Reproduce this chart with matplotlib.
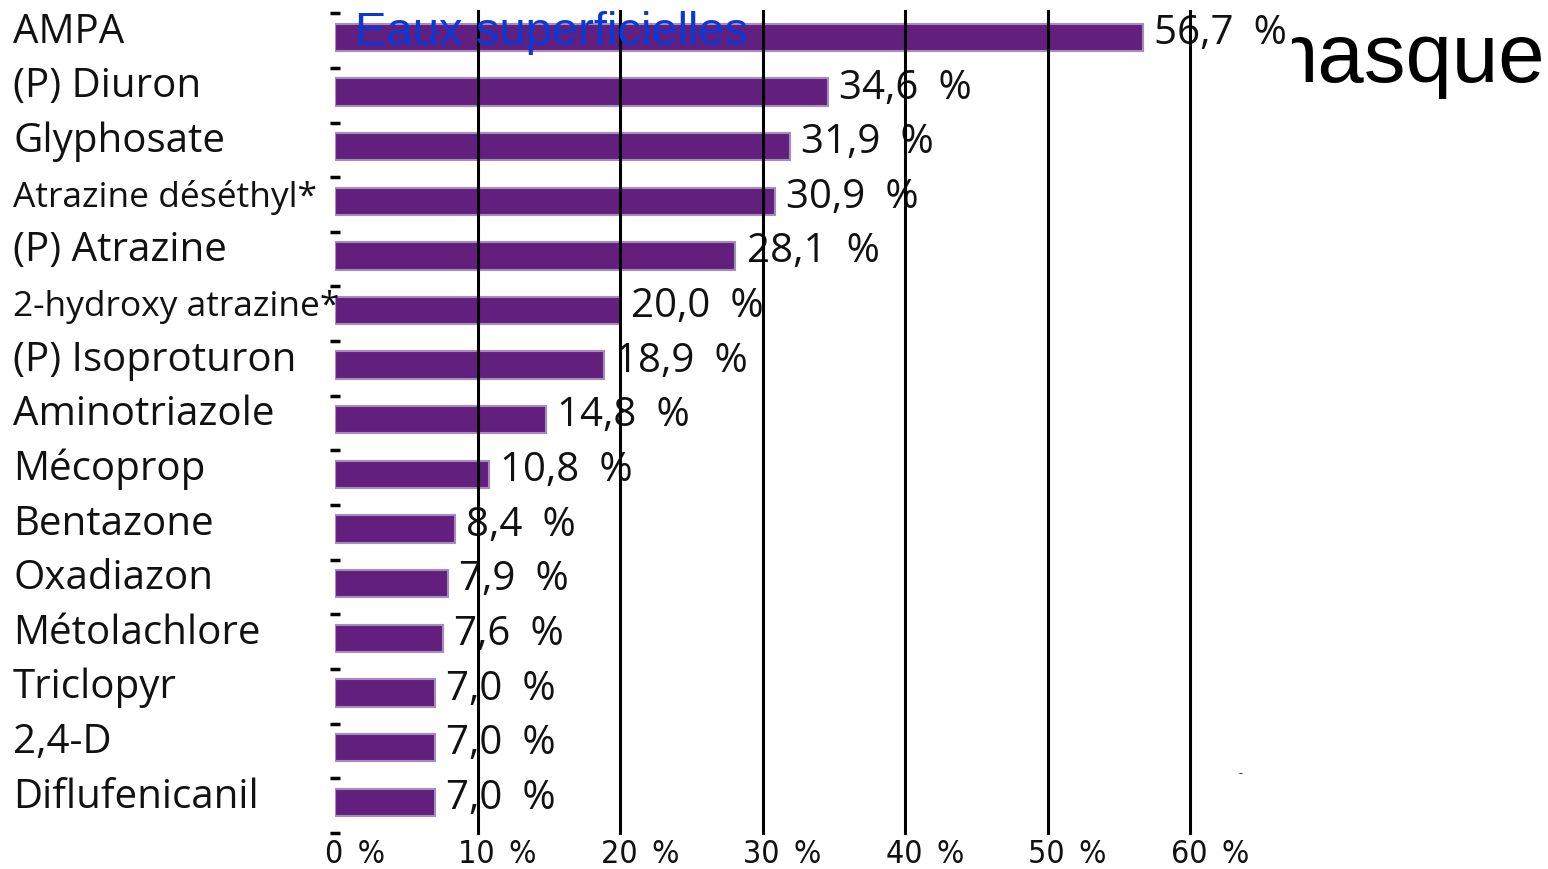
import matplotlib
matplotlib.use('Agg')
import numpy as np
import matplotlib.pyplot as plt
import matplotlib.transforms as mtransforms
from matplotlib.transforms import Bbox, TransformedBbox

# data
substances = ['AMPA', '(P) Diuron', 'Glyphosate', 'Atrazine déséthyl*', '(P) Atrazine',
              '2-hydroxy atrazine*', '(P) Isoproturon', 'Aminotriazole', 'Mécoprop',
              'Bentazone', 'Oxadiazon', 'Métolachlore', 'Triclopyr', '2,4-D', 'Diflufenicanil']
freq = [56.7, 34.6, 31.9, 30.9, 28.1, 20.0, 18.9, 14.8, 10.8, 8.4, 7.9, 7.6, 7.0, 7.0, 7.0]
xticks = [0, 10, 20, 30, 40, 50, 60]

W, H = 1548, 869
SP = '\u2002'  # wide space before the % sign, as in the source
fig = plt.figure(figsize=(W / 100, H / 100), dpi=100)
fig.patch.set_facecolor('white')

# axes: 0 % at x=335px, 10 % steps of ~142.5px
x0, x1 = 335 / W, 1290 / W
ax = fig.add_axes([x0, 1 - 835 / H, x1 - x0, (835 - 10) / H])
ax.set_xlim(0, (1290 - 335) / 14.25)
ax.set_ylim(14.6, -0.5)

ypos = np.arange(len(substances))
ax.barh(ypos, freq, height=0.5, color='#621f7e', edgecolor='#a68bbd', linewidth=1.5, zorder=2)

for x in xticks[1:]:
    ax.axvline(x, color='black', linewidth=2.2, zorder=5)

for spine in ax.spines.values():
    spine.set_visible(False)

label_font = ['Open Sans', 'DejaVu Sans']
for y, v in zip(ypos, freq):
    ax.annotate(f'{v:.1f}{SP}%'.replace('.', ','), xy=(v, y + 0.12), xytext=(8, 0),
                textcoords='offset points', va='baseline', ha='left',
                fontsize=29, family=label_font, color='#111111', zorder=4)

# category names, left aligned on the figure edge; long names squeezed a bit
trans = mtransforms.blended_transform_factory(fig.transFigure, ax.transData)
for y, name in zip(ypos, substances):
    size = 29 if len(name) < 18 else 25.5
    ax.text(13 / W, y + 0.1, name, transform=trans, ha='left', va='baseline',
            fontsize=size, family=label_font, color='#111111', clip_on=False)

# x ticks
ax.set_xticks(xticks)
ax.set_xticklabels([f'{t}{SP}%' for t in xticks], fontsize=23, family='DejaVu Sans',
                   fontstretch='condensed', color='#111111')
ax.tick_params(axis='x', length=0, pad=3)
offset = mtransforms.ScaledTranslation(20 / 100, 0, fig.dpi_scale_trans)
for lab in ax.get_xticklabels():
    lab.set_transform(lab.get_transform() + offset)

# small ticks between rows on the left
ax.set_yticks([])
ax.set_yticks(np.arange(len(substances) + 1) - 0.44, minor=True)
ax.tick_params(axis='y', which='minor', length=7, width=2.5, direction='inout', color='black')

# overlay texts from the slide
fig.text(355 / W, 1 - 45 / H, 'Eaux superficielles', color='#0a3ad6', fontsize=34,
         family='Liberation Sans', va='baseline', ha='left', zorder=10)
t = fig.text(1248 / W, 1 - 82 / H, 'masque', color='black', fontsize=60,
             family='Liberation Sans', va='baseline', ha='left', zorder=10)
t.set_clip_box(TransformedBbox(Bbox([[1292 / W, 0], [1, 1]]), fig.transFigure))
t.set_clip_on(True)
fig.text(1240 / W, 1 - 773 / H, '-', fontsize=8, color='black', ha='center', va='center')

fig.savefig('out.png', dpi=100, facecolor='white')
